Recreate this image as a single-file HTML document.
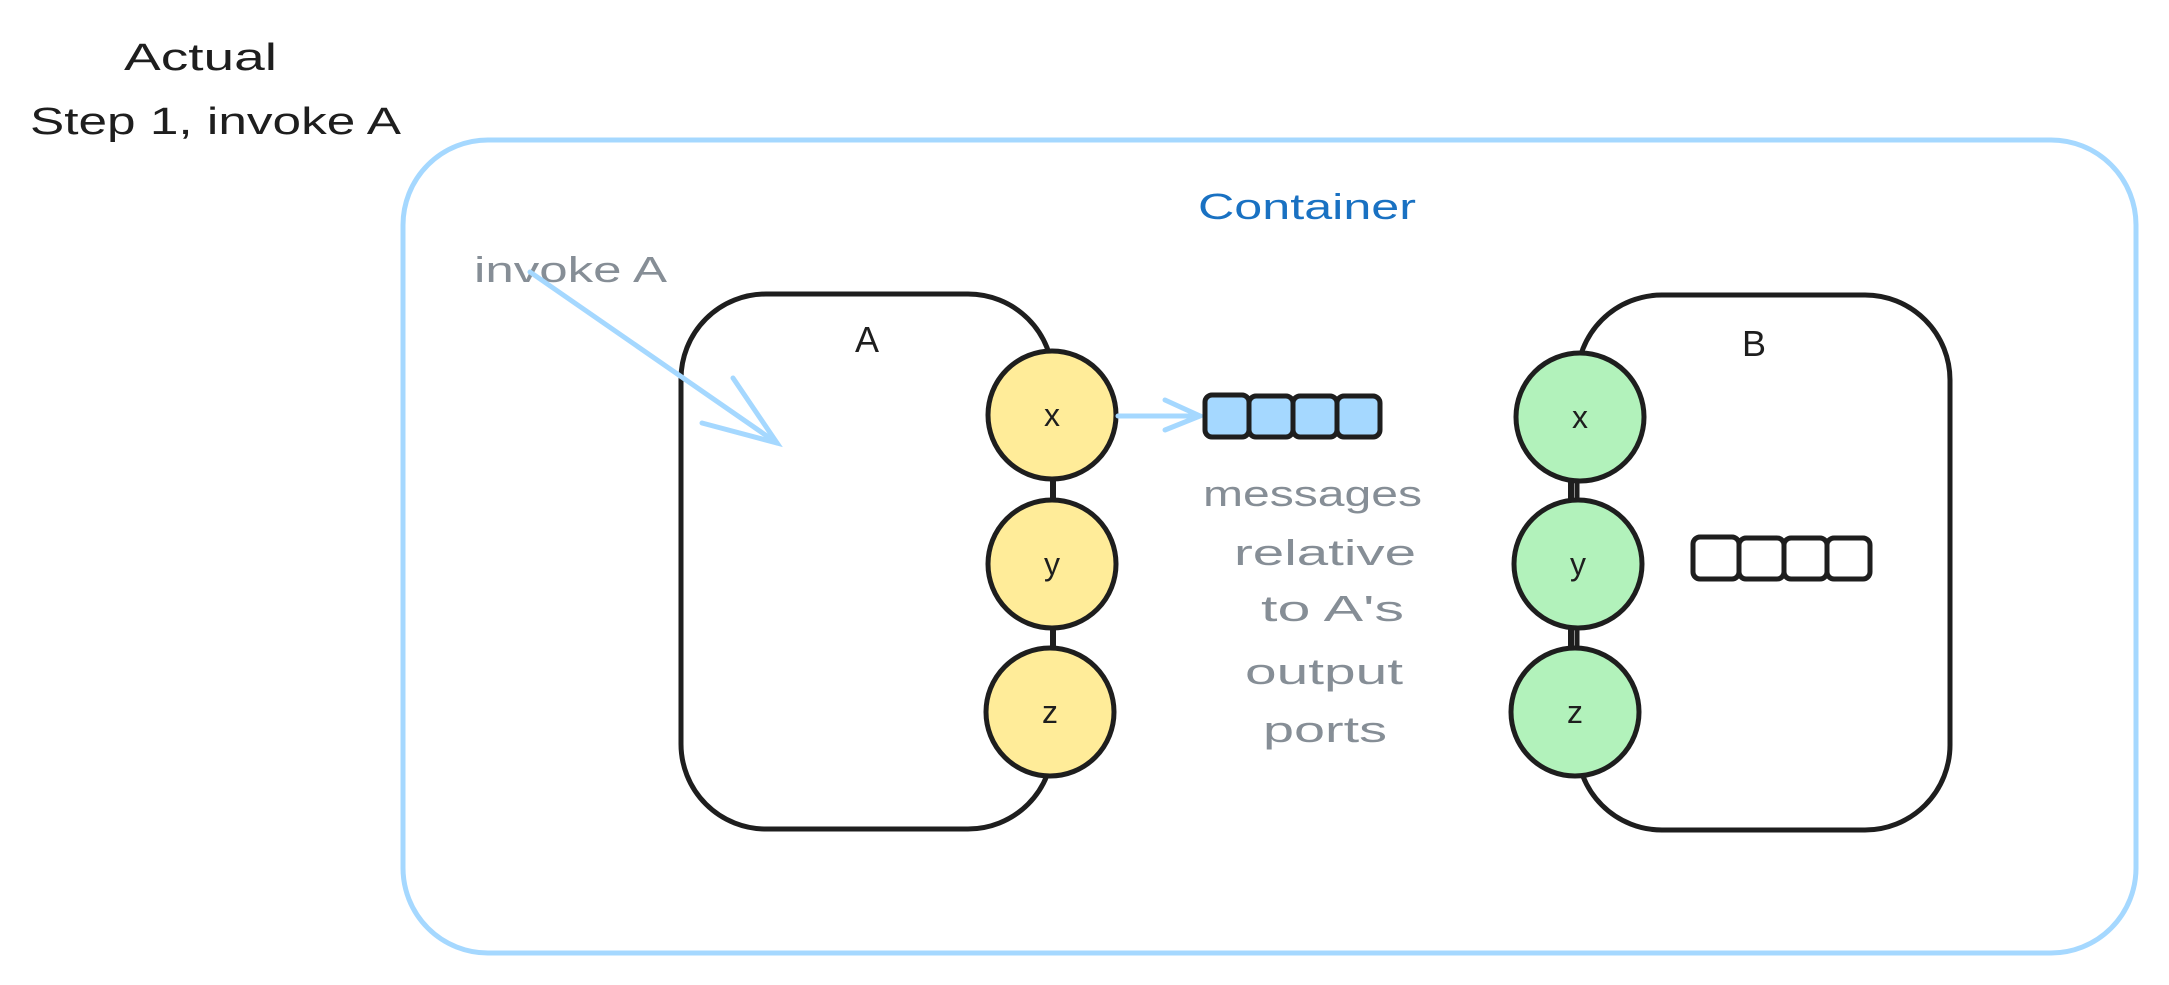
<!DOCTYPE html>
<html><head><meta charset="utf-8"><style>
html,body{margin:0;padding:0;background:#fff;}
svg{display:block;}
text{font-family:"Liberation Sans",sans-serif;}
</style></head><body>
<svg width="2169" height="985" viewBox="0 0 2169 985" xmlns="http://www.w3.org/2000/svg">
<text x="124" y="70" font-size="38" textLength="153" lengthAdjust="spacingAndGlyphs" fill="#1e1e1e">Actual</text>
<text x="30" y="134" font-size="38" textLength="371" lengthAdjust="spacingAndGlyphs" fill="#1e1e1e">Step 1, invoke A</text>
<rect x="403" y="140" width="1733" height="813" rx="85" fill="none" stroke="#a5d8ff" stroke-width="5"/>
<text x="1198" y="219" font-size="36" textLength="218" lengthAdjust="spacingAndGlyphs" fill="#1971c2">Container</text>
<text x="474" y="282" font-size="36" textLength="193" lengthAdjust="spacingAndGlyphs" fill="#868e96">invoke A</text>
<!-- Box A -->
<rect x="681" y="294" width="372" height="535" rx="85" fill="none" stroke="#1e1e1e" stroke-width="5"/>
<text x="867" y="352" font-size="36" text-anchor="middle" fill="#1e1e1e">A</text>
<line x1="1053" y1="470" x2="1053" y2="660" stroke="#1e1e1e" stroke-width="6"/>
<g fill="#ffec99" stroke="#1e1e1e" stroke-width="5">
<circle cx="1052" cy="415" r="64"/><circle cx="1052" cy="564" r="64"/><circle cx="1050" cy="712" r="64"/>
</g>
<g font-size="32" text-anchor="middle" fill="#1e1e1e">
<text x="1052" y="426">x</text><text x="1052" y="575">y</text><text x="1050" y="723">z</text>
</g>
<g stroke="#a5d8ff" stroke-width="5" fill="none" stroke-linecap="round">
<line x1="530" y1="272" x2="777" y2="443"/>
<polyline points="702,423 777,443 733,378"/>
<line x1="1118" y1="416" x2="1200" y2="416"/>
<polyline points="1165,400 1200,416 1165,430"/>
</g>
<g fill="#a5d8ff" stroke="#1e1e1e" stroke-width="5">
<rect x="1205" y="395" width="44" height="42" rx="7"/><rect x="1249" y="396" width="44" height="41" rx="7"/><rect x="1293" y="396" width="44" height="41" rx="7"/><rect x="1337" y="396" width="43" height="41" rx="7"/>
</g>
<g font-size="36" fill="#868e96">
<text x="1203" y="506" textLength="219" lengthAdjust="spacingAndGlyphs">messages</text>
<text x="1234" y="565" textLength="182" lengthAdjust="spacingAndGlyphs">relative</text>
<text x="1261" y="621" textLength="143" lengthAdjust="spacingAndGlyphs">to A's</text>
<text x="1245" y="684" textLength="158" lengthAdjust="spacingAndGlyphs">output</text>
<text x="1263" y="742" textLength="124" lengthAdjust="spacingAndGlyphs">ports</text>
</g>
<!-- Box B -->
<rect x="1577" y="295" width="373" height="535" rx="85" fill="none" stroke="#1e1e1e" stroke-width="5"/>
<text x="1754" y="356" font-size="36" text-anchor="middle" fill="#1e1e1e">B</text>
<line x1="1571" y1="470" x2="1571" y2="660" stroke="#1e1e1e" stroke-width="6"/>
<g fill="#b2f2bb" stroke="#1e1e1e" stroke-width="5">
<circle cx="1580" cy="417" r="64"/><circle cx="1578" cy="564" r="64"/><circle cx="1575" cy="712" r="64"/>
</g>
<g font-size="32" text-anchor="middle" fill="#1e1e1e">
<text x="1580" y="428">x</text><text x="1578" y="575">y</text><text x="1575" y="723">z</text>
</g>
<g fill="#fff" stroke="#1e1e1e" stroke-width="5">
<rect x="1693" y="537" width="46" height="42" rx="7"/><rect x="1739" y="538" width="45" height="41" rx="7"/><rect x="1784" y="538" width="43" height="41" rx="7"/><rect x="1827" y="538" width="43" height="41" rx="7"/>
</g>
</svg>
</body></html>
